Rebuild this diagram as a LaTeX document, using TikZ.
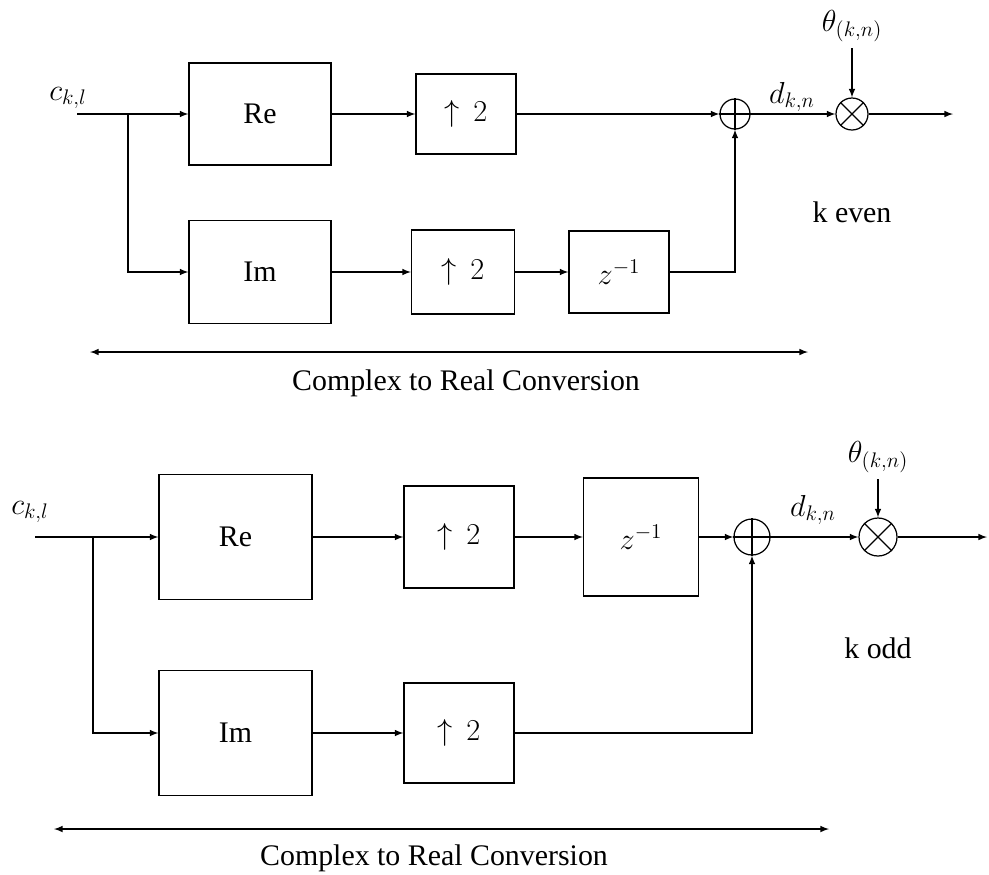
\documentclass[tikz,border=0pt]{standalone}
\usepackage{fontspec}
\setmainfont{Liberation Serif}
\usetikzlibrary{arrows, positioning}

\begin{document}
\begin{tikzpicture}[node distance=4cm, auto,
    font=\fontsize{17}{20}\selectfont,
    block/.style={rectangle, draw, line width=0.7pt, text centered},
    sumnode/.style={circle, draw, line width=0.7pt, inner sep=0pt},
    line/.style={draw, line width=0.7pt, -latex}]

    \useasboundingbox (0,0) rectangle (19.78,-17.48);

    % k even
    \node [block, minimum width=2.84cm, minimum height=2.04cm] (reA) at (5.2,-2.28) {Re};
    \node [block, minimum width=2.0cm, minimum height=1.6cm, right of=reA, xshift=0.12cm] (upA) {$\uparrow\,2$};
    \node [block, minimum width=2.84cm, minimum height=2.06cm, below of=reA, yshift=0.84cm] (imA) {Im};
    \node [block, minimum width=2.06cm, minimum height=1.68cm, right of=imA, xshift=0.06cm] (upA2) {$\uparrow\,2$};
    \node [block, minimum width=2.0cm, minimum height=1.64cm, right of=upA2, xshift=-0.88cm] (zA) {$z^{-1}$};
    \node [sumnode, minimum size=0.6cm, right of=upA, xshift=1.38cm] (sumA) {};
    \node [sumnode, minimum size=0.64cm, right of=sumA, xshift=-1.66cm] (mulA) {};
    \node [above of=mulA, yshift=-2.24cm] (thA) {$\theta_{(k,n)}$};
    \coordinate [right of=mulA, xshift=-1.98cm] (outA);
    \coordinate (inA) at (1.54,-2.28);
    \coordinate (brA) at (2.56,-2.28);
    \node (cA) at (1.36,-1.96) {$c_{k,l}$};
    \node (dA) at (15.84,-1.94) {$d_{k,n}$};
    \node (evenA) at (17.04,-4.24) {k even};
    \coordinate (lA) at (1.8,-7.04);
    \coordinate (rA) at (16.16,-7.04);
    \node (convA) at (9.32,-7.66) {Complex to Real Conversion};

    \draw [line width=0.7pt] (sumA.north) -- (sumA.south) (sumA.west) -- (sumA.east);
    \draw [line width=0.7pt] (mulA.north west) -- (mulA.south east) (mulA.north east) -- (mulA.south west);

    \path [line] (inA) -- (reA);
    \path [line] (brA) |- (imA);
    \path [line] (reA) -- (upA);
    \path [line] (upA) -- (sumA);
    \path [line] (imA) -- (upA2);
    \path [line] (upA2) -- (zA);
    \path [line] (zA) -| (sumA);
    \path [line] (sumA) -- (mulA);
    \path [line] (thA) -- (mulA);
    \path [line] (mulA) -- (outA);
    \path [line, latex-latex] (lA) -- (rA);

    % k odd
    \node [block, minimum width=3.06cm, minimum height=2.5cm] (reB) at (4.71,-10.74) {Re};
    \node [block, minimum width=2.2cm, minimum height=2.04cm, right of=reB, xshift=0.47cm] (upB) {$\uparrow\,2$};
    \node [block, minimum width=2.3cm, minimum height=2.36cm, right of=upB, xshift=-0.36cm] (zB) {$z^{-1}$};
    \node [sumnode, minimum size=0.72cm, right of=zB, xshift=-1.78cm] (sumB) {};
    \node [sumnode, minimum size=0.76cm, right of=sumB, xshift=-1.48cm] (mulB) {};
    \node [block, minimum width=3.06cm, minimum height=2.5cm, below of=reB, yshift=0.08cm] (imB) {Im};
    \node [block, minimum width=2.2cm, minimum height=2.0cm, right of=imB, xshift=0.47cm] (upB2) {$\uparrow\,2$};
    \node [above of=mulB, yshift=-2.4cm] (thB) {$\theta_{(k,n)}$};
    \coordinate [right of=mulB, xshift=-1.82cm] (outB);
    \coordinate (inB) at (0.7,-10.74);
    \coordinate (brB) at (1.86,-10.74);
    \node (cB) at (0.6,-10.24) {$c_{k,l}$};
    \node (dB) at (16.26,-10.2) {$d_{k,n}$};
    \node (oddB) at (17.56,-12.96) {k odd};
    \coordinate (lB) at (1.08,-16.58);
    \coordinate (rB) at (16.58,-16.58);
    \node (convB) at (8.68,-17.16) {Complex to Real Conversion};

    \draw [line width=0.7pt] (sumB.north) -- (sumB.south) (sumB.west) -- (sumB.east);
    \draw [line width=0.7pt] (mulB.north west) -- (mulB.south east) (mulB.north east) -- (mulB.south west);

    \path [line] (inB) -- (reB);
    \path [line] (brB) |- (imB);
    \path [line] (reB) -- (upB);
    \path [line] (upB) -- (zB);
    \path [line] (zB) -- (sumB);
    \path [line] (imB) -- (upB2);
    \path [line] (upB2) -| (sumB);
    \path [line] (sumB) -- (mulB);
    \path [line] (thB) -- (mulB);
    \path [line] (mulB) -- (outB);
    \path [line, latex-latex] (lB) -- (rB);
\end{tikzpicture}
\end{document}
